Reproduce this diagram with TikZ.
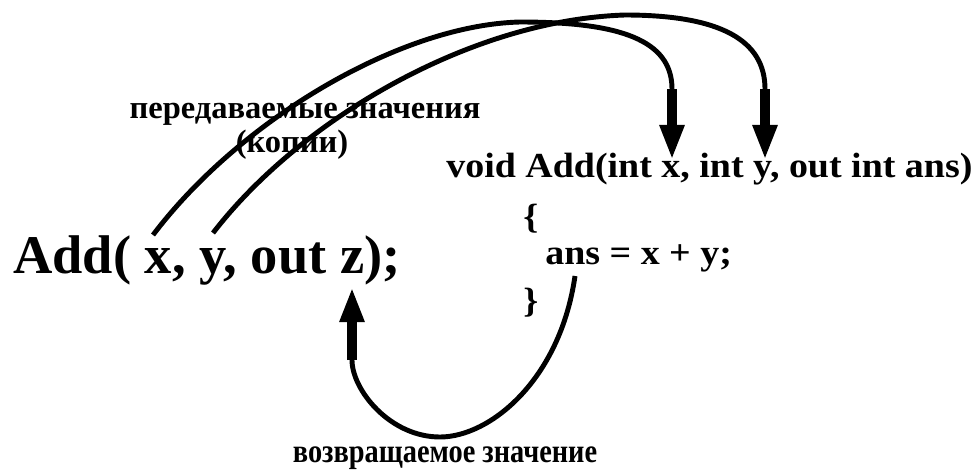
\documentclass[tikz,border=0pt]{standalone}
\usepackage{fontspec}
\setmainfont{Liberation Serif}
\newfontfamily\narrowserif[FakeStretch=0.85]{Liberation Serif}
\newfontfamily\wideserif[FakeStretch=1.08]{Liberation Serif}
\usetikzlibrary{arrows.meta}
\tikzset{call/.style={font=\bfseries\fontsize{31}{36}\selectfont,anchor=base west,inner sep=0pt},
 code/.style={font=\wideserif\bfseries\fontsize{20}{24}\selectfont,anchor=base west,inner sep=0pt},
 note/.style={font=\bfseries\fontsize{18.5}{22}\selectfont,anchor=base,inner sep=0pt},
 wire/.style={line width=2.8pt},
 flow/.style={line width=5.7pt,-{Triangle[length=20pt,width=13pt]}}}
\begin{document}
\begin{tikzpicture}[x=0.02cm,y=-0.02cm]
\useasboundingbox (0,0) rectangle (976,470);
% code
\node[call](callz) at (13,273){Add( x, y, out z);};
\node[code](head) at (446,177){void Add(int x, int y, out int ans)};
\node[code](lbr) at (523,228){\{};
\node[code](body) at (545,264){ans = x + y;};
\node[code](rbr) at (523,312){\}};
% labels
\node[note](sent) at (305,118){передаваемые значения};
\node[note](copies) at (292,152){(копии)};
\node[note,font=\narrowserif\bfseries\fontsize{19}{22}\selectfont](ret) at (445,462){возвращаемое значение};
% ends of the links
\coordinate(xs) at (153,235);\coordinate(ys) at (213,233);
\coordinate(xb) at (672,89);\coordinate(xt) at (672,160);
\coordinate(yb) at (765,89);\coordinate(yt) at (765,160);
\coordinate(as) at (575,276);
\coordinate(zb) at (352,360);\coordinate(zt) at (352,287);
% copies in
\draw[wire](xs)..controls(240,120)and(400,25)..(520,22)..controls(620,22)and(672,40)..(xb);
\draw[flow](xb)--(xt);
\draw[wire](ys)..controls(300,120)and(470,20)..(625,15)..controls(720,15)and(765,40)..(yb);
\draw[flow](yb)--(yt);
% value out
\draw[wire](as)..controls(560,380)and(490,437)..(440,437)..controls(390,437)and(352,390)..(zb);
\draw[flow](zb)--(zt);
\end{tikzpicture}
\end{document}
